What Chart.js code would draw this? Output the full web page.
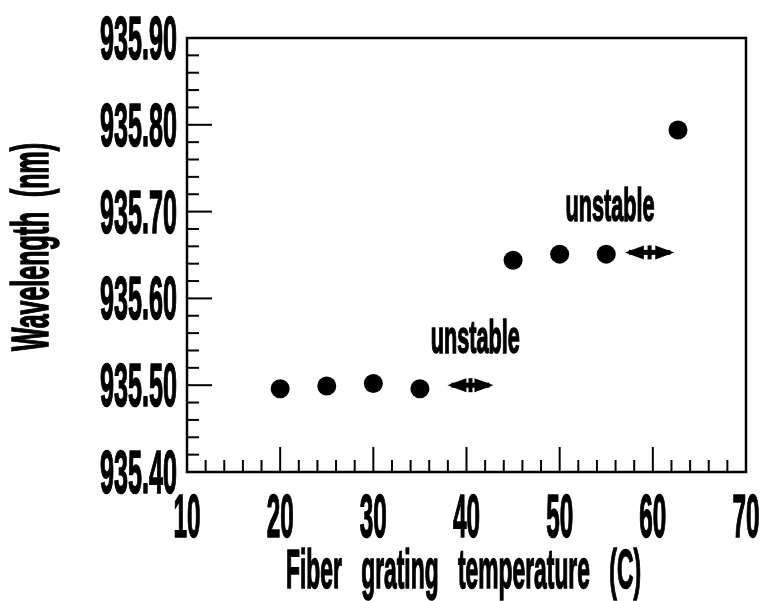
<!DOCTYPE html>
<html>
<head>
<meta charset="utf-8">
<script src="https://cdn.jsdelivr.net/npm/chart.js@4.4.1/dist/chart.umd.min.js"></script>
<style>
  html, body { margin: 0; padding: 0; background: #fff; }
  #wrap { position: relative; width: 769px; height: 601px; }
</style>
</head>
<body>
<div id="wrap"><canvas id="chart"></canvas></div>
<script>
// data
const temperatures = [20, 25, 30, 35, 45, 50, 55, 62.7];
const wavelengths  = [935.496, 935.499, 935.502, 935.496, 935.644, 935.651, 935.651, 935.794];

// axis ticks
const xTickValues = [10, 20, 30, 40, 50, 60, 70];
const xTickLabels = ['10', '20', '30', '40', '50', '60', '70'];
const yTickValues = [935.40, 935.50, 935.60, 935.70, 935.80, 935.90];
const yTickLabels = ['935.40', '935.50', '935.60', '935.70', '935.80', '935.90'];
const minorPerMajor = 5;

const xTitle = 'Fiber grating temperature (C)';
const yTitle = 'Wavelength (nm)';

// "unstable" notes and arrows, in data units
const noteText  = ['unstable', 'unstable'];
const noteX     = [40.95, 55.4];
const noteY     = [935.537, 935.689];
const arrowFrom = [37.95, 57.0];
const arrowTo   = [42.9, 62.3];
const arrowY    = [935.500, 935.653];

const FONT = '"Liberation Sans", Arial, sans-serif';

// condensed text: measure, then squeeze horizontally to the wanted width
function squeezed(ctx, text, x, y, size, width, align, rot, wordGap) {
  ctx.save();
  ctx.font = `bold ${size}px ${FONT}`;
  if (wordGap) ctx.wordSpacing = wordGap + 'px';
  const w = ctx.measureText(text).width;
  ctx.translate(x, y);
  if (rot) ctx.rotate(rot);
  ctx.scale(width / w, 1);
  ctx.textAlign = align;
  ctx.textBaseline = 'alphabetic';
  ctx.fillStyle = '#000';
  ctx.fillText(text, 0, 0);
  ctx.lineWidth = 1.6;
  ctx.strokeStyle = '#000';
  ctx.strokeText(text, 0, 0);
  ctx.restore();
}

function drawArrow(ctx, x1, x2, y) {
  const mid = (x1 + x2) / 2;
  const head = 19, hh = 7;
  ctx.save();
  ctx.fillStyle = '#000';
  ctx.fillRect(x1 + 4, y - 2.5, x2 - x1 - 8, 5);
  ctx.beginPath();
  ctx.moveTo(x1, y); ctx.lineTo(x1 + head, y - hh); ctx.lineTo(x1 + head, y + hh); ctx.closePath();
  ctx.moveTo(x2, y); ctx.lineTo(x2 - head, y - hh); ctx.lineTo(x2 - head, y + hh); ctx.closePath();
  ctx.fill();
  ctx.fillRect(mid - 2, y - 7, 4, 14);
  ctx.restore();
}

const framePlugin = {
  id: 'frame',
  afterDatasetsDraw(chart) {
    const { ctx, chartArea: a, scales: { x, y } } = chart;
    ctx.save();
    ctx.strokeStyle = '#000';

    // x ticks, inward from the bottom
    ctx.lineWidth = 2;
    for (let i = 0; i < xTickValues.length; i++) {
      const v = xTickValues[i];
      const px = x.getPixelForValue(v);
      if (i > 0 && i < xTickValues.length - 1) {
        ctx.beginPath(); ctx.moveTo(px, a.bottom); ctx.lineTo(px, a.bottom - 25); ctx.stroke();
      }
      if (i < xTickValues.length - 1) {
        const step = (xTickValues[i + 1] - v) / minorPerMajor;
        for (let k = 1; k < minorPerMajor; k++) {
          const mx = x.getPixelForValue(v + k * step);
          ctx.beginPath(); ctx.moveTo(mx, a.bottom); ctx.lineTo(mx, a.bottom - 12); ctx.stroke();
        }
      }
    }
    // y ticks, inward from the left
    for (let i = 0; i < yTickValues.length; i++) {
      const v = yTickValues[i];
      const py = y.getPixelForValue(v);
      if (i > 0 && i < yTickValues.length - 1) {
        ctx.beginPath(); ctx.moveTo(a.left, py); ctx.lineTo(a.left + 25, py); ctx.stroke();
      }
      if (i < yTickValues.length - 1) {
        const step = (yTickValues[i + 1] - v) / minorPerMajor;
        for (let k = 1; k < minorPerMajor; k++) {
          const my = y.getPixelForValue(v + k * step);
          ctx.beginPath(); ctx.moveTo(a.left, my); ctx.lineTo(a.left + 12, my); ctx.stroke();
        }
      }
    }
    // frame
    ctx.lineWidth = 2.5;
    ctx.strokeRect(a.left, a.top, a.right - a.left, a.bottom - a.top);
    ctx.restore();

    // tick labels
    xTickValues.forEach((v, i) => {
      squeezed(ctx, xTickLabels[i], x.getPixelForValue(v), a.bottom + 65, 62, 27, 'center');
    });
    yTickValues.forEach((v, i) => {
      const py = Math.max(y.getPixelForValue(v), 31);
      squeezed(ctx, yTickLabels[i], a.left - 10, py + 21, 62, 77, 'right');
    });

    // axis titles
    squeezed(ctx, xTitle, (a.left + a.right) / 2 - 3, 588, 56, 355, 'center', 0, 32);
    squeezed(ctx, yTitle, 48, (a.top + a.bottom) / 2 - 8, 52, 208, 'center', -Math.PI / 2, 16);

    // notes
    noteText.forEach((t, i) => {
      squeezed(ctx, t, x.getPixelForValue(noteX[i]), y.getPixelForValue(noteY[i]), 46, 89, 'center');
      drawArrow(ctx, x.getPixelForValue(arrowFrom[i]), x.getPixelForValue(arrowTo[i]), y.getPixelForValue(arrowY[i]));
    });
  }
};

new Chart(document.getElementById('chart'), {
  type: 'scatter',
  data: {
    datasets: [{
      data: temperatures.map((t, i) => ({ x: t, y: wavelengths[i] })),
      backgroundColor: '#000',
      borderColor: '#000',
      pointRadius: 9.5,
      pointHoverRadius: 9.5,
      borderWidth: 0,
    }],
  },
  options: {
    responsive: true, maintainAspectRatio: false,
    animation: false,
    layout: { padding: { left: 187, right: 23, top: 38, bottom: 129 } },
    plugins: { legend: { display: false }, tooltip: { enabled: false } },
    scales: {
      x: { type: 'linear', min: 10, max: 70, display: false },
      y: { type: 'linear', min: 935.4, max: 935.9, display: false },
    },
  },
  plugins: [framePlugin],
});
</script>
</body>
</html>
